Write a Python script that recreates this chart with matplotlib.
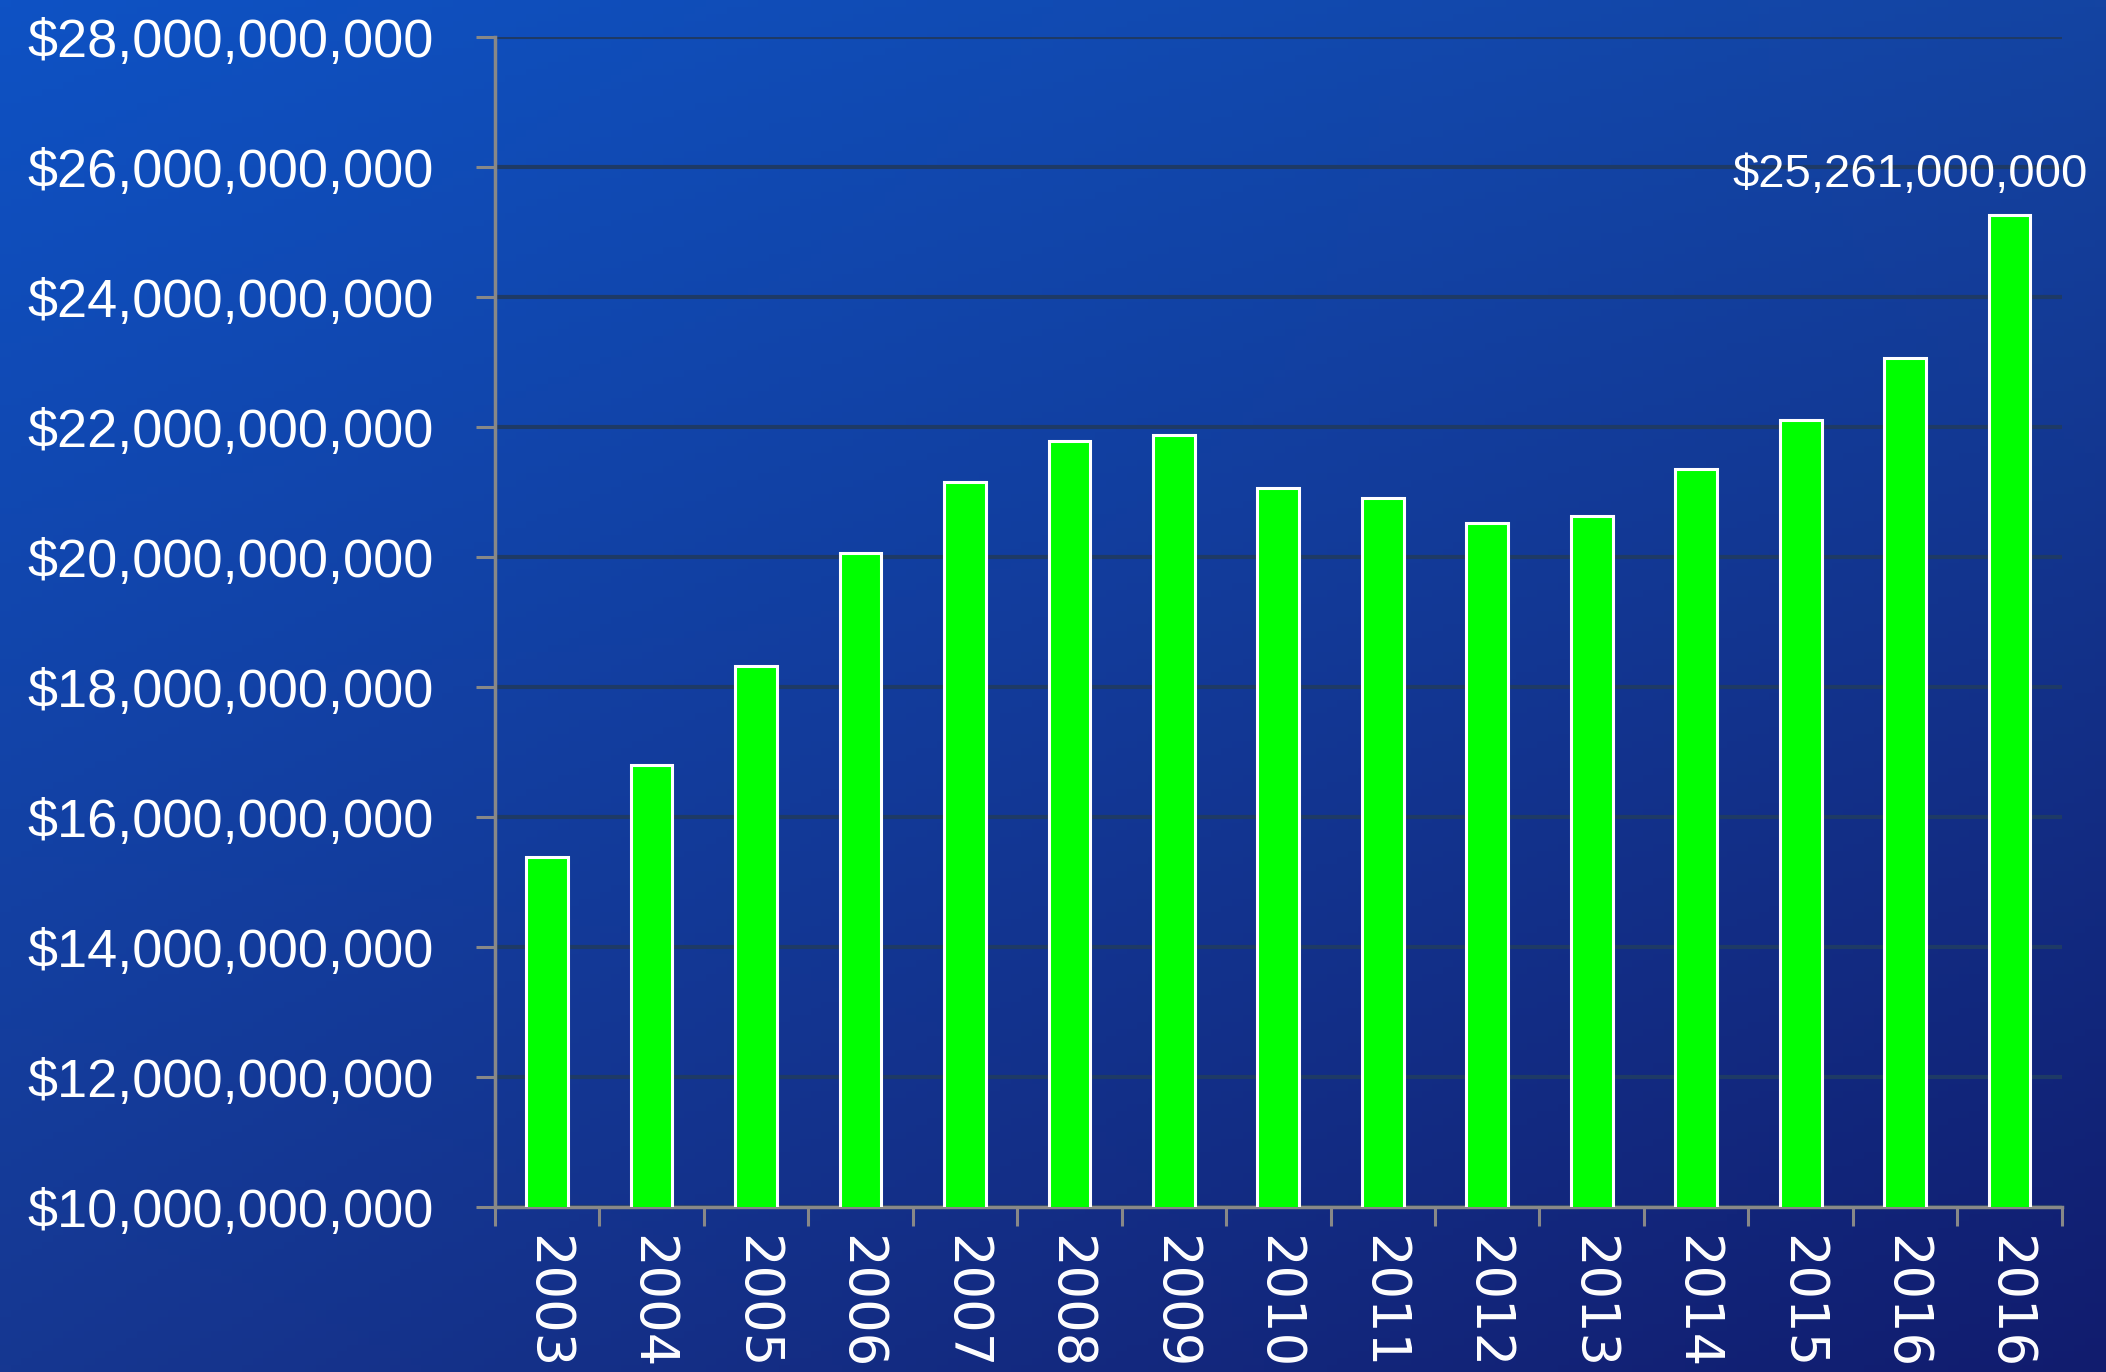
#!/usr/bin/env python3

import matplotlib
matplotlib.use("Agg")
import matplotlib.pyplot as plt
import numpy as np
from matplotlib.ticker import FuncFormatter, FixedLocator

years = ["2003", "2004", "2005", "2006", "2007", "2008", "2009", "2010",
         "2011", "2012", "2013", "2014", "2015", "2016", "2016"]
values = [15.39e9, 16.80e9, 18.33e9, 20.06e9, 21.16e9, 21.78e9, 21.88e9, 21.06e9,
          20.91e9, 20.52e9, 20.64e9, 21.35e9, 22.11e9, 23.06e9, 25.261e9]
last_label = "$25,261,000,000"

narrow = ['Liberation Sans', 'DejaVu Sans']

fig = plt.figure(figsize=(21.06, 13.72), dpi=100)

# background gradient (bilinear between corner colours)
bg = fig.add_axes([0, 0, 1, 1], zorder=0)
tl = np.array([14, 82, 196]) / 255
tr = np.array([20, 68, 162]) / 255
bl = np.array([22, 55, 145]) / 255
br = np.array([17, 28, 110]) / 255
u = np.linspace(0, 1, 200)[None, :, None]
v = np.linspace(0, 1, 200)[:, None, None]
grad = (1 - v) * ((1 - u) * tl + u * tr) + v * ((1 - u) * bl + u * br)
bg.imshow(grad, aspect='auto', extent=[0, 1, 0, 1], origin='upper')
bg.axis('off')

ax = fig.add_axes([0.235, 0.120, 0.744, 0.853], zorder=1)
ax.patch.set_alpha(0)

x = np.arange(len(years))
ax.bar(x, values, width=0.40, color='#00FF00', edgecolor='white',
       linewidth=2.2, zorder=3)

ax.set_xlim(-0.5, len(years) - 0.5)
ax.set_ylim(10e9, 28e9)
ax.yaxis.set_major_locator(FixedLocator(np.arange(10e9, 28.1e9, 2e9)))
ax.yaxis.set_major_formatter(FuncFormatter(lambda v, p: f"${v:,.0f}"))
ax.grid(axis='y', color='#1E3A66', linewidth=3, zorder=1)
ax.set_axisbelow(True)

ax.set_xticks(x)
ax.set_xticklabels(years, rotation=270, fontsize=38, color='white',
                   family='DejaVu Sans', va='top', ha='center')
ax.set_xticks(np.arange(-0.5, len(years)), minor=True)
ax.tick_params(axis='x', which='major', length=0, pad=20)
ax.tick_params(axis='x', which='minor', length=14, width=2.2, color='#888888',
               direction='out')
ax.tick_params(axis='y', length=14, width=2.2, color='#888888', pad=30,
               labelsize=39, labelcolor='white')
for lbl in ax.get_yticklabels():
    lbl.set_family(narrow)

for side in ['top', 'right']:
    ax.spines[side].set_visible(False)
for side in ['left', 'bottom']:
    ax.spines[side].set_color('#888888')
    ax.spines[side].set_linewidth(2.5)

ax.annotate(last_label, xy=(x[-1], values[-1]),
            xytext=(2088 / 2106, 1 - 187 / 1372),
            textcoords='figure fraction', xycoords='data', ha='right', va='baseline',
            fontsize=34, color='white', family=narrow)

plt.savefig("out.png", dpi=100)
